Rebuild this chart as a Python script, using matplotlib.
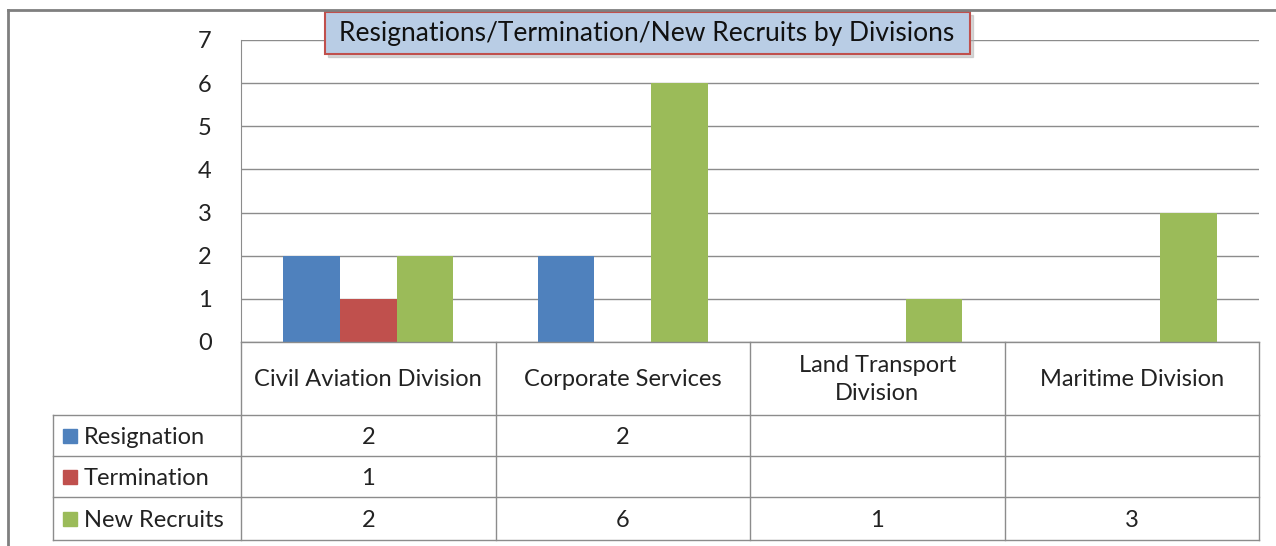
import numpy as np
import matplotlib
matplotlib.use("Agg")
import matplotlib.pyplot as plt
from matplotlib.patches import Rectangle

divisions = ["Civil Aviation Division", "Corporate Services",
             "Land Transport\nDivision", "Maritime Division"]
series_names = ["Resignation", "Termination", "New Recruits"]
resignation = [2, 2, None, None]
termination = [1, None, None, None]
new_recruits = [2, 6, 1, 3]
colors = ["#4f81bd", "#c0504d", "#9bbb59"]
title = "Resignations/Termination/New Recruits by Divisions"

plt.rcParams["font.family"] = ["Lato", "DejaVu Sans"]

W, H = 1276, 546
fig = plt.figure(figsize=(W / 100, H / 100), dpi=100)

# pixel layout of the plot area
x0, x1 = 241, 1259
y_top, y_zero = 40, 342
ax = fig.add_axes([x0 / W, 1 - y_zero / H, (x1 - x0) / W, (y_zero - y_top) / H])

n = len(divisions)
x = np.arange(n)
bw = 0.667 / 3
all_series = [resignation, termination, new_recruits]
for i, (vals, c) in enumerate(zip(all_series, colors)):
    v = [0 if a is None else a for a in vals]
    ax.bar(x + (i - 1) * bw, v, width=bw, color=c, zorder=3)

ax.set_xlim(-0.5, n - 0.5)
ax.set_ylim(0, 7)
ax.set_yticks(range(8))
ax.set_xticks([])
ax.tick_params(axis="y", length=0, pad=21, labelsize=17, labelcolor="#222222")
ax.grid(axis="y", color="#8c8c8c", linewidth=1, zorder=0)
for s in ["top", "right", "bottom"]:
    ax.spines[s].set_visible(False)
ax.spines["left"].set_color("#8c8c8c")

# overlay in pixel coordinates for table, border and title
ov = fig.add_axes([0, 0, 1, 1], zorder=5)
ov.set_xlim(0, W)
ov.set_ylim(H, 0)
ov.axis("off")
ov.patch.set_alpha(0)

gc = "#8c8c8c"
# outer chart border
ov.plot([8, 8], [10, H + 5], color="#7f7f7f", lw=2)
ov.plot([8, W + 5], [10, 10], color="#7f7f7f", lw=2)

col_x = np.linspace(x0, x1, n + 1)
row_y = [342, 415, 456, 497, 540]
lab_x = 53
# horizontal lines
ov.plot([x0, x1], [row_y[0], row_y[0]], color=gc, lw=1)
for y in row_y[1:]:
    ov.plot([lab_x, x1], [y, y], color=gc, lw=1)
# vertical lines
for cx in col_x:
    ov.plot([cx, cx], [row_y[0], row_y[-1]], color=gc, lw=1)
ov.plot([lab_x, lab_x], [row_y[1], row_y[-1]], color=gc, lw=1)

fs = 17
for j, name in enumerate(divisions):
    ov.text((col_x[j] + col_x[j + 1]) / 2, (row_y[0] + row_y[1]) / 2 + 1, name,
            ha="center", va="center", fontsize=fs, color="#222222", linespacing=1.45)

for i, (name, vals, c) in enumerate(zip(series_names, all_series, colors)):
    yc = (row_y[i + 1] + row_y[i + 2]) / 2
    ov.add_patch(Rectangle((63, yc - 7), 14, 14, color=c))
    ov.text(84, yc + 2, name, ha="left", va="center", fontsize=fs, color="#222222")
    for j, v in enumerate(vals):
        if v is not None:
            ov.text((col_x[j] + col_x[j + 1]) / 2, yc + 2, str(v),
                    ha="center", va="center", fontsize=fs, color="#222222")

# title box with shadow
ov.add_patch(Rectangle((328, 15), 645, 42, color="#b0b0b0", alpha=0.5))
ov.add_patch(Rectangle((325, 12), 645, 42, facecolor="#b9cde5",
                       edgecolor="#c0504d", lw=1.5))
ov.text(647, 33, title, ha="center", va="center", fontsize=19, color="#111111")

fig.savefig("out.png", dpi=100)
